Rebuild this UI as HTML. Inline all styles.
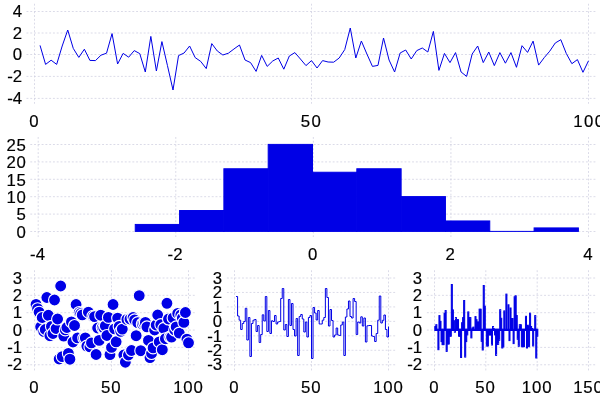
<!DOCTYPE html>
<html><head><meta charset="utf-8"><title>plot</title>
<style>
html,body{margin:0;padding:0;background:#fff;}
svg{display:block}
text{font-family:"Liberation Sans",sans-serif;font-size:16.3px;fill:#000;stroke:#000;stroke-width:0.18px;letter-spacing:0}
.g{stroke:#d0d0e0;stroke-width:0.76;stroke-dasharray:1.89 1.89;fill:none}
.ln{stroke:#0000e6;stroke-width:1.0;fill:none;stroke-linejoin:round}
.bar{fill:#0000e6;stroke:#0000e6;stroke-width:1}
.pt{fill:#0000e6;stroke:#fff;stroke-width:1.13}
</style></head><body>
<svg width="600" height="400" viewBox="0 0 600 400">
<rect width="600" height="400" fill="#fff"/>
<path d="M26.5,11.5H595.5" class="g"/>
<path d="M26.5,33.0H595.5" class="g"/>
<path d="M26.5,54.5H595.5" class="g"/>
<path d="M26.5,76.4H595.5" class="g"/>
<path d="M26.5,98.4H595.5" class="g"/>
<path d="M34.5,3.75V103.75" class="g"/>
<path d="M311.5,3.75V103.75" class="g"/>
<path d="M588.5,3.75V103.75" class="g"/>
<text transform="scale(1.03,1)" x="12.48" y="17.05">4</text>
<text transform="scale(1.03,1)" x="12.48" y="38.55">2</text>
<text transform="scale(1.03,1)" x="12.48" y="60.05">0</text>
<text transform="scale(1.03,1)" x="7.04 12.48" y="81.95">-2</text>
<text transform="scale(1.03,1)" x="7.04 12.48" y="103.95">-4</text>
<text transform="scale(1.03,1)" x="28.30" y="126.60">0</text>
<text transform="scale(1.03,1)" x="292.04 302.43" y="126.60">50</text>
<text transform="scale(1.03,1)" x="556.55 566.94 577.33" y="126.60">100</text>
<path d="M40.04,45.4 L45.58,64.4 L51.12,60.2 L56.66,64.4 L62.20,46 L67.74,30 L73.28,48.4 L78.82,57.4 L84.36,49.2 L89.90,60.4 L95.44,60.6 L100.98,55.2 L106.52,53.2 L112.06,33.6 L117.60,64 L123.14,53.4 L128.68,57.2 L134.22,50.6 L139.76,53.6 L145.30,72 L150.84,36.4 L156.38,71 L161.92,41.6 L167.46,65.6 L173.00,90 L178.54,55.6 L184.08,53 L189.62,46 L195.16,57.6 L200.70,61.4 L206.24,68.6 L211.78,43.6 L217.32,51 L222.86,55 L228.40,53.2 L233.94,49 L239.48,45 L245.02,60 L250.56,62.6 L256.10,71.4 L261.64,55.4 L267.18,66.4 L272.72,61 L278.26,58 L283.80,69.2 L289.34,56 L294.88,52.6 L300.42,59 L305.96,65.6 L311.50,60.6 L317.04,68 L322.58,60.6 L328.12,62 L333.66,62.2 L339.20,58 L344.74,49.6 L350.28,28 L355.82,58 L361.36,41 L366.90,54 L372.44,66.4 L377.98,65.4 L383.52,38 L389.06,60 L394.60,72 L400.14,53 L405.68,50 L411.22,59 L416.76,50.6 L422.30,48 L427.84,52 L433.38,31.4 L438.92,70.4 L444.46,53.4 L450.00,62.6 L455.54,52.6 L461.08,72 L466.62,76.4 L472.16,54 L477.70,46 L483.24,62.6 L488.78,52 L494.32,65.6 L499.86,52.6 L505.40,63.2 L510.94,52.6 L516.48,67.3 L522.02,45.7 L527.56,52.4 L533.10,41.1 L538.64,65.1 L544.18,57.7 L549.72,51.2 L555.26,43 L560.80,39.7 L566.34,53.6 L571.88,63.7 L577.42,59.6 L582.96,72.3 L588.50,60.8" class="ln"/>
<path d="M30.3,144.5H595.5" class="g"/>
<path d="M30.3,161.9H595.5" class="g"/>
<path d="M30.3,179.3H595.5" class="g"/>
<path d="M30.3,196.7H595.5" class="g"/>
<path d="M30.3,214.1H595.5" class="g"/>
<path d="M30.3,231.5H595.5" class="g"/>
<path d="M38.2,137V237" class="g"/>
<path d="M175.77,137V237" class="g"/>
<path d="M313.35,137V237" class="g"/>
<path d="M450.92,137V237" class="g"/>
<path d="M588.5,137V237" class="g"/>
<text transform="scale(1.03,1)" x="6.31 16.12" y="150.90">25</text>
<text transform="scale(1.03,1)" x="6.31 16.12" y="168.30">20</text>
<text transform="scale(1.03,1)" x="6.31 16.12" y="185.70">15</text>
<text transform="scale(1.03,1)" x="6.31 16.12" y="203.10">10</text>
<text transform="scale(1.03,1)" x="16.12" y="220.50">5</text>
<text transform="scale(1.03,1)" x="16.12" y="237.90">0</text>
<text transform="scale(1.03,1)" x="29.17 34.61" y="259.90">-4</text>
<text transform="scale(1.03,1)" x="162.74 168.17" y="259.90">-2</text>
<text transform="scale(1.03,1)" x="299.03" y="259.90">0</text>
<text transform="scale(1.03,1)" x="432.59" y="259.90">2</text>
<text transform="scale(1.03,1)" x="566.17" y="259.90">4</text>
<rect x="135.25" y="224.44" width="44.31" height="6.96" class="bar"/>
<rect x="179.56" y="210.52" width="44.31" height="20.88" class="bar"/>
<rect x="223.88" y="168.76" width="44.31" height="62.64" class="bar"/>
<rect x="268.19" y="144.40" width="44.31" height="87.00" class="bar"/>
<rect x="312.51" y="172.24" width="44.31" height="59.16" class="bar"/>
<rect x="356.82" y="168.76" width="44.31" height="62.64" class="bar"/>
<rect x="401.14" y="196.60" width="44.31" height="34.80" class="bar"/>
<rect x="445.45" y="220.96" width="44.31" height="10.44" class="bar"/>
<rect x="489.77" y="231.40" width="44.31" height="0.01" class="bar"/>
<rect x="534.09" y="227.92" width="44.31" height="3.48" class="bar"/>
<path d="M26.5,278.0H195.5" class="g"/>
<text transform="scale(1.03,1)" x="12.40" y="283.75">3</text>
<path d="M26.5,295.35H195.5" class="g"/>
<text transform="scale(1.03,1)" x="12.40" y="301.10">2</text>
<path d="M26.5,312.7H195.5" class="g"/>
<text transform="scale(1.03,1)" x="12.40" y="318.45">1</text>
<path d="M26.5,330.05H195.5" class="g"/>
<text transform="scale(1.03,1)" x="12.40" y="335.80">0</text>
<path d="M26.5,347.4H195.5" class="g"/>
<text transform="scale(1.03,1)" x="6.96 12.40" y="353.15">-1</text>
<path d="M26.5,364.75H195.5" class="g"/>
<text transform="scale(1.03,1)" x="6.96 12.40" y="370.50">-2</text>
<path d="M34.5,270.25V370.5" class="g"/>
<text transform="scale(1.03,1)" x="28.30" y="392.60">0</text>
<path d="M111.5,270.25V370.5" class="g"/>
<text transform="scale(1.03,1)" x="98.11 108.01" y="392.60">50</text>
<path d="M188.5,270.25V370.5" class="g"/>
<text transform="scale(1.03,1)" x="168.11 178.01 187.91" y="392.60">100</text>
<circle cx="36.04" cy="304.4" r="6" class="pt"/>
<circle cx="37.58" cy="308.7" r="6" class="pt"/>
<circle cx="39.12" cy="312.2" r="6" class="pt"/>
<circle cx="40.66" cy="326.8" r="6" class="pt"/>
<circle cx="42.20" cy="317.5" r="6" class="pt"/>
<circle cx="43.74" cy="331.5" r="6" class="pt"/>
<circle cx="45.28" cy="329.5" r="6" class="pt"/>
<circle cx="46.82" cy="297.5" r="6" class="pt"/>
<circle cx="48.36" cy="315.3" r="6" class="pt"/>
<circle cx="49.90" cy="335.7" r="6" class="pt"/>
<circle cx="51.44" cy="326.4" r="6" class="pt"/>
<circle cx="52.98" cy="333.5" r="6" class="pt"/>
<circle cx="54.52" cy="300.0" r="6" class="pt"/>
<circle cx="56.06" cy="328.5" r="6" class="pt"/>
<circle cx="57.60" cy="319.0" r="6" class="pt"/>
<circle cx="59.14" cy="359.0" r="6" class="pt"/>
<circle cx="60.68" cy="286.0" r="6" class="pt"/>
<circle cx="62.22" cy="356.6" r="6" class="pt"/>
<circle cx="63.76" cy="336.1" r="6" class="pt"/>
<circle cx="65.30" cy="329.9" r="6" class="pt"/>
<circle cx="66.84" cy="327.5" r="6" class="pt"/>
<circle cx="68.38" cy="353.4" r="6" class="pt"/>
<circle cx="69.92" cy="359.2" r="6" class="pt"/>
<circle cx="71.46" cy="321.9" r="6" class="pt"/>
<circle cx="73.00" cy="342.0" r="6" class="pt"/>
<circle cx="74.54" cy="325.5" r="6" class="pt"/>
<circle cx="76.08" cy="304.5" r="6" class="pt"/>
<circle cx="77.62" cy="337.9" r="6" class="pt"/>
<circle cx="79.16" cy="312.5" r="6" class="pt"/>
<circle cx="80.70" cy="313.5" r="6" class="pt"/>
<circle cx="82.24" cy="314.9" r="6" class="pt"/>
<circle cx="83.78" cy="338.1" r="6" class="pt"/>
<circle cx="85.32" cy="337.9" r="6" class="pt"/>
<circle cx="86.86" cy="346.1" r="6" class="pt"/>
<circle cx="88.40" cy="312.2" r="6" class="pt"/>
<circle cx="89.94" cy="346.8" r="6" class="pt"/>
<circle cx="91.48" cy="342.9" r="6" class="pt"/>
<circle cx="93.02" cy="316.2" r="6" class="pt"/>
<circle cx="94.56" cy="316.6" r="6" class="pt"/>
<circle cx="96.10" cy="354.5" r="6" class="pt"/>
<circle cx="97.64" cy="328.0" r="6" class="pt"/>
<circle cx="99.18" cy="340.4" r="6" class="pt"/>
<circle cx="100.72" cy="315.2" r="6" class="pt"/>
<circle cx="102.26" cy="327.5" r="6" class="pt"/>
<circle cx="103.80" cy="328" r="6" class="pt"/>
<circle cx="105.34" cy="325.9" r="6" class="pt"/>
<circle cx="106.88" cy="335.5" r="6" class="pt"/>
<circle cx="108.42" cy="317.4" r="6" class="pt"/>
<circle cx="109.96" cy="354.6" r="6" class="pt"/>
<circle cx="111.50" cy="347.4" r="6" class="pt"/>
<circle cx="113.04" cy="304.5" r="6" class="pt"/>
<circle cx="114.58" cy="328.9" r="6" class="pt"/>
<circle cx="116.12" cy="341.8" r="6" class="pt"/>
<circle cx="117.66" cy="318.1" r="6" class="pt"/>
<circle cx="119.20" cy="326.4" r="6" class="pt"/>
<circle cx="120.74" cy="331.3" r="6" class="pt"/>
<circle cx="122.28" cy="329.1" r="6" class="pt"/>
<circle cx="123.82" cy="355" r="6" class="pt"/>
<circle cx="125.36" cy="362.2" r="6" class="pt"/>
<circle cx="126.90" cy="319.4" r="6" class="pt"/>
<circle cx="128.44" cy="355" r="6" class="pt"/>
<circle cx="129.98" cy="319" r="6" class="pt"/>
<circle cx="131.52" cy="350.5" r="6" class="pt"/>
<circle cx="133.06" cy="317.5" r="6" class="pt"/>
<circle cx="134.60" cy="319.9" r="6" class="pt"/>
<circle cx="136.14" cy="335.7" r="6" class="pt"/>
<circle cx="137.68" cy="322.6" r="6" class="pt"/>
<circle cx="139.22" cy="295.6" r="6" class="pt"/>
<circle cx="140.76" cy="350.7" r="6" class="pt"/>
<circle cx="142.30" cy="323.9" r="6" class="pt"/>
<circle cx="143.84" cy="323.2" r="6" class="pt"/>
<circle cx="145.38" cy="322.4" r="6" class="pt"/>
<circle cx="146.92" cy="326.9" r="6" class="pt"/>
<circle cx="148.46" cy="340.4" r="6" class="pt"/>
<circle cx="150.00" cy="357.6" r="6" class="pt"/>
<circle cx="151.54" cy="353.5" r="6" class="pt"/>
<circle cx="153.08" cy="347.9" r="6" class="pt"/>
<circle cx="154.62" cy="330" r="6" class="pt"/>
<circle cx="156.16" cy="325" r="6" class="pt"/>
<circle cx="157.70" cy="315" r="6" class="pt"/>
<circle cx="159.24" cy="341.9" r="6" class="pt"/>
<circle cx="160.78" cy="324.6" r="6" class="pt"/>
<circle cx="162.32" cy="349.7" r="6" class="pt"/>
<circle cx="163.86" cy="328.4" r="6" class="pt"/>
<circle cx="165.40" cy="338.7" r="6" class="pt"/>
<circle cx="166.94" cy="303.3" r="6" class="pt"/>
<circle cx="168.48" cy="319" r="6" class="pt"/>
<circle cx="170.02" cy="337" r="6" class="pt"/>
<circle cx="171.56" cy="337.1" r="6" class="pt"/>
<circle cx="173.10" cy="317.9" r="6" class="pt"/>
<circle cx="174.64" cy="330" r="6" class="pt"/>
<circle cx="176.18" cy="326.9" r="6" class="pt"/>
<circle cx="177.72" cy="313.4" r="6" class="pt"/>
<circle cx="179.26" cy="333.1" r="6" class="pt"/>
<circle cx="180.80" cy="314.9" r="6" class="pt"/>
<circle cx="182.34" cy="318" r="6" class="pt"/>
<circle cx="183.88" cy="322.4" r="6" class="pt"/>
<circle cx="185.42" cy="312.5" r="6" class="pt"/>
<circle cx="186.96" cy="339.2" r="6" class="pt"/>
<circle cx="188.50" cy="342.8" r="6" class="pt"/>
<path d="M226.9,278.0H395.5" class="g"/>
<text transform="scale(1.03,1)" x="206.55" y="283.75">3</text>
<path d="M226.9,292.46H395.5" class="g"/>
<text transform="scale(1.03,1)" x="206.55" y="298.21">2</text>
<path d="M226.9,306.92H395.5" class="g"/>
<text transform="scale(1.03,1)" x="206.55" y="312.67">1</text>
<path d="M226.9,321.38H395.5" class="g"/>
<text transform="scale(1.03,1)" x="206.55" y="327.12">0</text>
<path d="M226.9,335.83H395.5" class="g"/>
<text transform="scale(1.03,1)" x="201.12 206.55" y="341.58">-1</text>
<path d="M226.9,350.29H395.5" class="g"/>
<text transform="scale(1.03,1)" x="201.12 206.55" y="356.04">-2</text>
<path d="M226.9,364.75H395.5" class="g"/>
<text transform="scale(1.03,1)" x="201.12 206.55" y="370.50">-3</text>
<path d="M234.5,270.25V370.5" class="g"/>
<text transform="scale(1.03,1)" x="222.48" y="392.60">0</text>
<path d="M311.5,270.25V370.5" class="g"/>
<text transform="scale(1.03,1)" x="292.28 302.18" y="392.60">50</text>
<path d="M388.5,270.25V370.5" class="g"/>
<text transform="scale(1.03,1)" x="362.28 372.18 382.09" y="392.60">100</text>
<path d="M236.04,296.5H237.58V316H239.12V320.2H240.66V329.5H242.20V323.5H243.74V321.5H245.28V308.3H246.82V340H248.36V317.5H249.90V356.5H251.44V323.5H252.98V320.2H254.52V319.5H256.06V331.5H257.60V325.5H259.14V342.5H260.68V334.5H262.22V314.8H263.76V321H265.30V296.5H266.84V331.5H268.38V310.5H269.92V333.5H271.46V320.8H273.00V321.5H274.54V315.5H276.08V324H277.62V322H279.16V321.5H280.70V298.5H282.24V288.5H283.78V330H285.32V324.5H286.86V336.5H288.40V299.5H289.94V325.5H291.48V303.5H293.02V329.5H294.56V336H296.10V318.5H297.64V355.5H299.18V316.5H300.72V314.5H302.26V319H303.80V332H305.34V322H306.88V337H308.42V317.5H309.96V315.5H311.50V358.5H313.04V307.5H314.58V313H316.12V320H317.66V310.5H319.20V324H320.74V324H322.28V320.2H323.82V317.5H325.36V288.5H326.90V297.5H328.44V326H329.98V309.5H331.52V320.5H333.06V337H334.60V335H336.14V328H337.68V335H339.22V335.5H340.76V325H342.30V322H343.84V355.5H345.38V317H346.92V309H348.46V301H350.00V316.5H351.54V318H353.08V298.5H354.62V301.5H356.16V334.5H357.70V322H359.24V323H360.78V316.8H362.32V326H363.86V318H365.40V342H366.94V325.8H368.48V325.5H370.02V325.5H371.56V336H373.10V336.5H374.64V341.5H376.18V333.5H377.72V320.2H379.26V296H380.80V323H382.34V320.3H383.88V315H385.42V329.5H386.96V337H388.50V326.5" class="ln"/>
<path d="M426.9,278.0H595.5" class="g"/>
<text transform="scale(1.03,1)" x="400.73" y="283.75">3</text>
<path d="M426.9,295.35H595.5" class="g"/>
<text transform="scale(1.03,1)" x="400.73" y="301.10">2</text>
<path d="M426.9,312.7H595.5" class="g"/>
<text transform="scale(1.03,1)" x="400.73" y="318.45">1</text>
<path d="M426.9,330.05H595.5" class="g"/>
<text transform="scale(1.03,1)" x="400.73" y="335.80">0</text>
<path d="M426.9,347.4H595.5" class="g"/>
<text transform="scale(1.03,1)" x="395.29 400.73" y="353.15">-1</text>
<path d="M426.9,364.75H595.5" class="g"/>
<text transform="scale(1.03,1)" x="395.29 400.73" y="370.50">-2</text>
<path d="M434.5,270.25V370.5" class="g"/>
<text transform="scale(1.03,1)" x="416.65" y="392.60">0</text>
<path d="M485.8,270.25V370.5" class="g"/>
<text transform="scale(1.03,1)" x="461.50 471.41" y="392.60">50</text>
<path d="M537.2,270.25V370.5" class="g"/>
<text transform="scale(1.03,1)" x="506.65 516.55 526.46" y="392.60">100</text>
<path d="M588.5,270.25V370.5" class="g"/>
<text transform="scale(1.03,1)" x="556.46 566.36 576.26" y="392.60">150</text>
<rect x="434.82" y="326.40" width="1.03" height="4.10" class="bar"/>
<rect x="435.85" y="324.70" width="1.03" height="5.80" class="bar"/>
<rect x="436.88" y="329.25" width="1.03" height="1.25" class="bar"/>
<rect x="437.91" y="329.25" width="1.03" height="20.45" class="bar"/>
<rect x="438.94" y="315.60" width="1.03" height="14.90" class="bar"/>
<rect x="439.97" y="321.35" width="1.03" height="9.15" class="bar"/>
<rect x="441.00" y="329.25" width="1.03" height="12.35" class="bar"/>
<rect x="442.03" y="329.25" width="1.03" height="15.40" class="bar"/>
<rect x="443.06" y="329.25" width="1.03" height="15.40" class="bar"/>
<rect x="444.09" y="313.25" width="1.03" height="17.25" class="bar"/>
<rect x="445.12" y="310.55" width="1.03" height="19.95" class="bar"/>
<rect x="446.15" y="329.25" width="1.03" height="22.15" class="bar"/>
<rect x="447.18" y="329.25" width="1.03" height="14.75" class="bar"/>
<rect x="448.21" y="329.25" width="1.03" height="14.75" class="bar"/>
<rect x="449.24" y="329.25" width="1.03" height="6.95" class="bar"/>
<rect x="450.27" y="329.25" width="1.03" height="6.95" class="bar"/>
<rect x="451.30" y="284.50" width="1.03" height="46.00" class="bar"/>
<rect x="452.33" y="309.90" width="1.03" height="20.60" class="bar"/>
<rect x="453.36" y="320.70" width="1.03" height="9.80" class="bar"/>
<rect x="454.39" y="329.25" width="1.03" height="2.95" class="bar"/>
<rect x="455.42" y="317.60" width="1.03" height="12.90" class="bar"/>
<rect x="456.45" y="319.65" width="1.03" height="10.85" class="bar"/>
<rect x="457.48" y="319.65" width="1.03" height="10.85" class="bar"/>
<rect x="458.51" y="329.25" width="1.03" height="6.95" class="bar"/>
<rect x="459.54" y="329.25" width="1.03" height="6.95" class="bar"/>
<rect x="460.57" y="329.25" width="1.03" height="28.25" class="bar"/>
<rect x="461.60" y="322.70" width="1.03" height="7.80" class="bar"/>
<rect x="462.63" y="317.60" width="1.03" height="12.90" class="bar"/>
<rect x="463.66" y="300.50" width="1.03" height="30.00" class="bar"/>
<rect x="464.69" y="329.25" width="1.03" height="27.85" class="bar"/>
<rect x="465.72" y="329.25" width="1.03" height="12.35" class="bar"/>
<rect x="466.75" y="329.25" width="1.03" height="5.65" class="bar"/>
<rect x="467.78" y="311.90" width="1.03" height="18.60" class="bar"/>
<rect x="468.81" y="317.60" width="1.03" height="12.90" class="bar"/>
<rect x="469.84" y="317.60" width="1.03" height="12.90" class="bar"/>
<rect x="470.87" y="329.25" width="1.03" height="8.65" class="bar"/>
<rect x="471.90" y="328.00" width="1.03" height="2.50" class="bar"/>
<rect x="472.93" y="327.10" width="1.03" height="3.40" class="bar"/>
<rect x="473.96" y="329.25" width="1.03" height="1.25" class="bar"/>
<rect x="474.99" y="316.60" width="1.03" height="13.90" class="bar"/>
<rect x="476.02" y="319.70" width="1.03" height="10.80" class="bar"/>
<rect x="477.05" y="322.00" width="1.03" height="8.50" class="bar"/>
<rect x="478.08" y="322.00" width="1.03" height="8.50" class="bar"/>
<rect x="479.11" y="309.20" width="1.03" height="21.30" class="bar"/>
<rect x="480.14" y="309.20" width="1.03" height="21.30" class="bar"/>
<rect x="481.17" y="329.25" width="1.03" height="12.05" class="bar"/>
<rect x="482.20" y="329.25" width="1.03" height="20.75" class="bar"/>
<rect x="483.23" y="285.50" width="1.03" height="45.00" class="bar"/>
<rect x="484.26" y="306.20" width="1.03" height="24.30" class="bar"/>
<rect x="485.29" y="329.25" width="1.03" height="1.25" class="bar"/>
<rect x="486.32" y="329.25" width="1.03" height="16.75" class="bar"/>
<rect x="487.35" y="329.25" width="1.03" height="16.75" class="bar"/>
<rect x="488.38" y="329.25" width="1.03" height="5.65" class="bar"/>
<rect x="489.41" y="329.25" width="1.03" height="5.65" class="bar"/>
<rect x="490.44" y="329.25" width="1.03" height="5.65" class="bar"/>
<rect x="491.47" y="329.25" width="1.03" height="15.75" class="bar"/>
<rect x="492.50" y="326.55" width="1.03" height="3.95" class="bar"/>
<rect x="493.53" y="328.80" width="1.03" height="1.70" class="bar"/>
<rect x="494.56" y="329.25" width="1.03" height="5.65" class="bar"/>
<rect x="495.59" y="329.25" width="1.03" height="26.15" class="bar"/>
<rect x="496.62" y="329.25" width="1.03" height="15.05" class="bar"/>
<rect x="497.65" y="329.25" width="1.03" height="15.05" class="bar"/>
<rect x="498.68" y="329.25" width="1.03" height="11.05" class="bar"/>
<rect x="499.71" y="309.70" width="1.03" height="20.80" class="bar"/>
<rect x="500.74" y="318.30" width="1.03" height="12.20" class="bar"/>
<rect x="501.77" y="329.25" width="1.03" height="18.75" class="bar"/>
<rect x="502.80" y="329.25" width="1.03" height="17.65" class="bar"/>
<rect x="503.83" y="310.90" width="1.03" height="19.60" class="bar"/>
<rect x="504.86" y="329.25" width="1.03" height="1.25" class="bar"/>
<rect x="505.89" y="294.10" width="1.03" height="36.40" class="bar"/>
<rect x="506.92" y="329.25" width="1.03" height="1.25" class="bar"/>
<rect x="507.95" y="304.80" width="1.03" height="25.70" class="bar"/>
<rect x="508.98" y="329.25" width="1.03" height="11.35" class="bar"/>
<rect x="510.01" y="308.00" width="1.03" height="22.50" class="bar"/>
<rect x="511.04" y="318.50" width="1.03" height="12.00" class="bar"/>
<rect x="512.07" y="318.50" width="1.03" height="12.00" class="bar"/>
<rect x="513.10" y="329.25" width="1.03" height="14.35" class="bar"/>
<rect x="514.13" y="296.80" width="1.03" height="33.70" class="bar"/>
<rect x="515.16" y="295.80" width="1.03" height="34.70" class="bar"/>
<rect x="516.19" y="315.50" width="1.03" height="15.00" class="bar"/>
<rect x="517.22" y="329.25" width="1.03" height="10.00" class="bar"/>
<rect x="518.25" y="329.25" width="1.03" height="17.05" class="bar"/>
<rect x="519.28" y="324.75" width="1.03" height="5.75" class="bar"/>
<rect x="520.31" y="324.75" width="1.03" height="5.75" class="bar"/>
<rect x="521.34" y="329.25" width="1.03" height="17.45" class="bar"/>
<rect x="522.37" y="329.25" width="1.03" height="17.45" class="bar"/>
<rect x="523.40" y="329.25" width="1.03" height="17.45" class="bar"/>
<rect x="524.43" y="329.25" width="1.03" height="1.25" class="bar"/>
<rect x="525.46" y="316.30" width="1.03" height="14.20" class="bar"/>
<rect x="526.49" y="329.25" width="1.03" height="18.75" class="bar"/>
<rect x="527.52" y="325.25" width="1.03" height="5.25" class="bar"/>
<rect x="528.55" y="329.25" width="1.03" height="17.45" class="bar"/>
<rect x="529.58" y="313.20" width="1.03" height="17.30" class="bar"/>
<rect x="530.61" y="326.50" width="1.03" height="4.00" class="bar"/>
<rect x="531.64" y="328.50" width="1.03" height="2.00" class="bar"/>
<rect x="532.67" y="329.25" width="1.03" height="16.75" class="bar"/>
<rect x="533.70" y="329.25" width="1.03" height="1.25" class="bar"/>
<rect x="534.73" y="315.60" width="1.03" height="14.90" class="bar"/>
<rect x="535.76" y="329.25" width="1.03" height="28.75" class="bar"/>
<rect x="536.79" y="329.25" width="1.03" height="6.95" class="bar"/>
</svg>
</body></html>
